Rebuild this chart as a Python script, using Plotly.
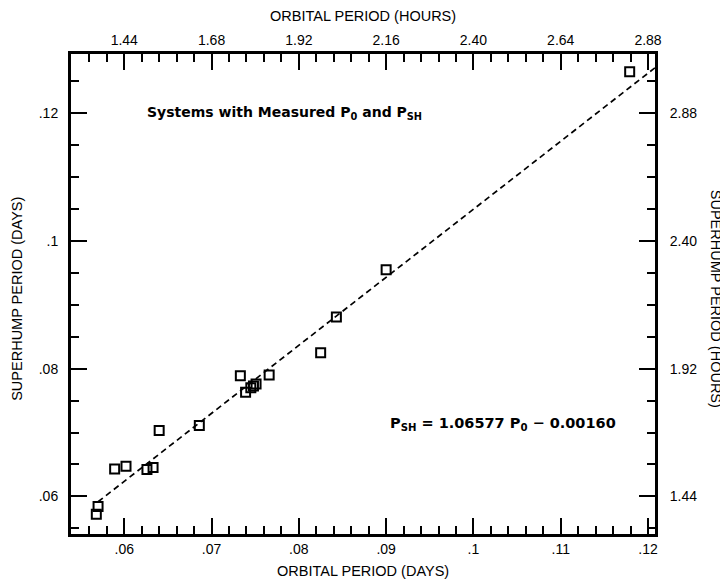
import plotly.graph_objects as go

# ---- data ----
orbital_days = [0.0570, 0.0568, 0.0589, 0.0602, 0.0626, 0.0633, 0.0640, 0.0686,
                0.0733, 0.0739, 0.0745, 0.0748, 0.0751, 0.0766, 0.0825, 0.0843,
                0.0900, 0.1179]
superhump_days = [0.0584, 0.0572, 0.0643, 0.0647, 0.0642, 0.0645, 0.0703, 0.0711,
                  0.0789, 0.0763, 0.0770, 0.0773, 0.0776, 0.0790, 0.0825, 0.0881,
                  0.0955, 0.1265]

fit_slope = 1.06577
fit_intercept = -0.00160
fit_x = [0.0570, 0.1208]
fit_y = [fit_slope * v + fit_intercept for v in fit_x]

x_tick_vals = [0.06, 0.07, 0.08, 0.09, 0.10, 0.11, 0.12]
x_tick_days_text = ['.06', '.07', '.08', '.09', '.1', '.11', '.12']
x_tick_hours_text = ['1.44', '1.68', '1.92', '2.16', '2.40', '2.64', '2.88']
y_tick_vals = [0.06, 0.08, 0.10, 0.12]
y_tick_days_text = ['.06', '.08', '.1', '.12']
y_tick_hours_text = ['1.44', '1.92', '2.40', '2.88']

x_range = [0.0539, 0.1208]
y_range = [0.0541, 0.1293]

FONT = "Liberation Sans, Arial, sans-serif"
BOLD = "DejaVu Sans, sans-serif"

fig = go.Figure()
fig.add_trace(go.Scatter(
    x=fit_x, y=fit_y, mode='lines',
    line=dict(color='black', width=1.7, dash='6px,4px'),
    showlegend=False, hoverinfo='skip'))
fig.add_trace(go.Scatter(
    x=orbital_days, y=superhump_days, mode='markers',
    marker=dict(symbol='square-open', size=9, color='black', line=dict(width=2, color='black')),
    showlegend=False))
# invisible trace to activate secondary (hours) axes
fig.add_trace(go.Scatter(
    x=orbital_days, y=superhump_days, xaxis='x2', yaxis='y2', mode='markers',
    marker=dict(opacity=0), showlegend=False, hoverinfo='skip'))

axis_common = dict(
    showgrid=False, zeroline=False, showline=True, linecolor='black', linewidth=3,
    ticks='inside', ticklen=16, tickwidth=2, tickcolor='black',
    tickfont=dict(family=FONT, size=14, color='black'),
    tickmode='array',
)

# page body has an 8px default margin, so the figure is 8px smaller than the window
fig.update_layout(
    width=720, height=575,
    margin=dict(l=63, r=73, t=46, b=49, pad=0),
    plot_bgcolor='white', paper_bgcolor='white',
    xaxis=dict(axis_common, range=x_range, tickvals=x_tick_vals, ticktext=x_tick_days_text,
               minor=dict(ticks='inside', ticklen=8, tickwidth=2, tickcolor='black',
                          tickmode='linear', tick0=0.054, dtick=0.002)),
    xaxis2=dict(axis_common, range=x_range, tickvals=x_tick_vals, ticktext=x_tick_hours_text,
                overlaying='x', side='top', anchor='y',
                minor=dict(ticks='inside', ticklen=8, tickwidth=2, tickcolor='black',
                           tickmode='linear', tick0=0.054, dtick=0.002)),
    yaxis=dict(axis_common, range=y_range, tickvals=y_tick_vals, ticktext=y_tick_days_text,
               ticklabelstandoff=7,
               minor=dict(ticks='inside', ticklen=8, tickwidth=2, tickcolor='black',
                          tickmode='linear', tick0=0.055, dtick=0.005)),
    yaxis2=dict(axis_common, range=y_range, tickvals=y_tick_vals, ticktext=y_tick_hours_text,
                overlaying='y', side='right', anchor='x', ticklabelstandoff=9,
                minor=dict(ticks='inside', ticklen=8, tickwidth=2, tickcolor='black',
                           tickmode='linear', tick0=0.055, dtick=0.005)),
)

title_font = dict(family=FONT, size=14.5, color='black')
fig.add_annotation(text='ORBITAL PERIOD (DAYS)', xref='paper', yref='paper', x=0.5, y=0,
                   yshift=-37, showarrow=False, font=title_font, yanchor='middle')
fig.add_annotation(text='ORBITAL PERIOD (HOURS)', xref='paper', yref='paper', x=0.5, y=1,
                   yshift=38, showarrow=False, font=title_font, yanchor='middle')
fig.add_annotation(text='SUPERHUMP PERIOD (DAYS)', xref='paper', yref='paper', x=0, y=0.49,
                   xshift=-54, showarrow=False, font=title_font, textangle=-90,
                   xanchor='center', yanchor='middle')
fig.add_annotation(text='SUPERHUMP PERIOD (HOURS)', xref='paper', yref='paper', x=1, y=0.49,
                   xshift=61, showarrow=False, font=title_font, textangle=90,
                   xanchor='center', yanchor='middle')

fig.add_annotation(text='<b>Systems with Measured P<sub>0</sub> and P<sub>SH</sub></b>',
                   x=0.0624, y=0.1200, xanchor='left', yanchor='middle', showarrow=False,
                   font=dict(family=BOLD, size=14, color='black'))
fig.add_annotation(text='<b>P<sub>SH</sub> = 1.06577 P<sub>0</sub> \u2212 0.00160</b>',
                   x=0.0902, y=0.0714, xanchor='left', yanchor='middle', showarrow=False,
                   font=dict(family=BOLD, size=14.5, color='black'))

fig.write_html("out.html")
